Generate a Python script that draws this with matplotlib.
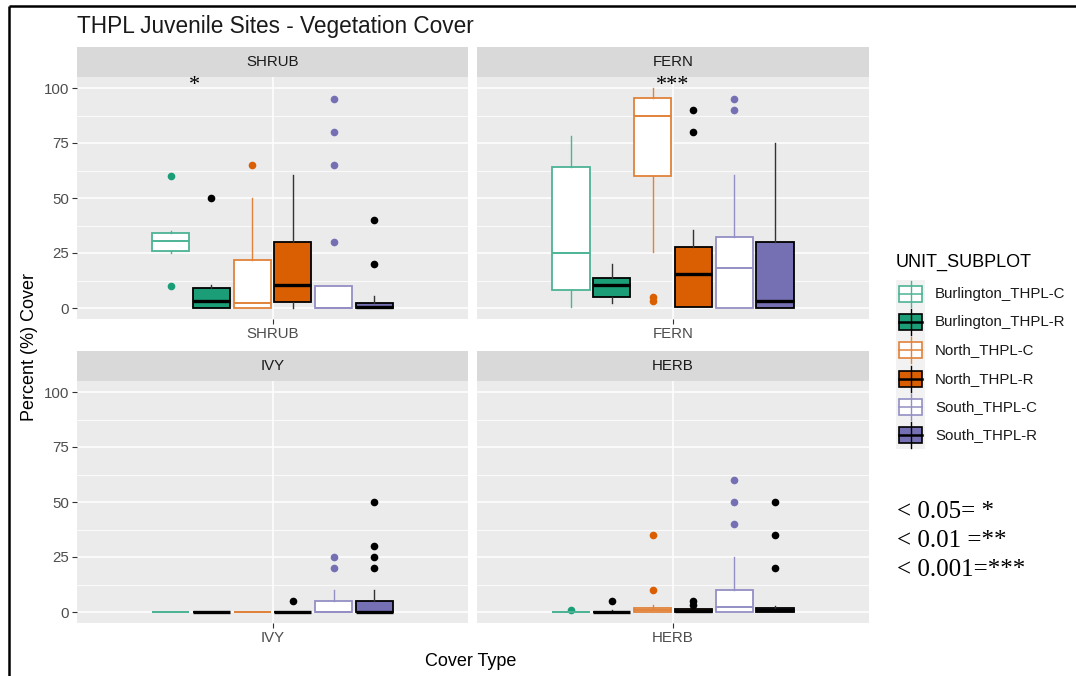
import matplotlib
matplotlib.use("Agg")
import matplotlib.pyplot as plt
from matplotlib.patches import Rectangle
from matplotlib.colors import to_rgb

plt.rcParams['font.family'] = ['Liberation Sans', 'DejaVu Sans']

panels = ["SHRUB", "FERN", "IVY", "HERB"]
groups = ["Burlington_THPL-C", "Burlington_THPL-R", "North_THPL-C",
          "North_THPL-R", "South_THPL-C", "South_THPL-R"]
site_colors = ["#1B9E77", "#1B9E77", "#D95F02", "#D95F02", "#7570B3", "#7570B3"]
filled = [False, True, False, True, False, True]

# box stats, one row per cover type (SHRUB, FERN, IVY, HERB), one column per group
q1 = [[26, 0, 0, 2.7, 0, 0],
      [8, 5, 60.2, 0.5, 0, 0],
      [0, 0, 0, 0, 0, 0],
      [0, 0, 0, 0, 0, 0]]
med = [[30.4, 3.2, 2.4, 10.4, 0, 0.5],
       [25.1, 10.4, 87.4, 15.4, 18, 3.2],
       [0, 0, 0, 0, 0, 0],
       [0, 0, 1, 0.5, 2.3, 1]]
q3 = [[34.2, 9.2, 21.8, 30.1, 10.1, 2.3],
      [64.1, 13.6, 95.3, 27.7, 32.2, 30],
      [0, 0, 0, 0, 5, 5],
      [0, 0, 2, 1.5, 9.8, 2]]
whis_lo = [[25, 0, 0, 0, 0, 0],
           [0.5, 2.4, 25.4, 0.5, 0, 0],
           [0, 0, 0, 0, 0, 0],
           [0, 0, 0, 0, 0, 0]]
whis_hi = [[35.2, 10.3, 50, 60.4, 10.1, 5.3],
           [78.2, 19.8, 100, 35.4, 60.4, 74.9],
           [0, 0, 0, 0, 10, 10],
           [0, 1, 3, 1.5, 25, 2.7]]
outliers = [[[60, 10], [50], [65], [], [95, 80, 65, 30], [40, 20]],
            [[], [], [5, 3], [90, 80], [95, 90], []],
            [[], [], [], [5], [25, 20], [50, 30, 25, 20]],
            [[1], [5], [35, 10], [5, 3], [60, 50, 40], [50, 35, 20]]]
signif = ["*", "***", "", ""]
signif_x = [-0.24, 0.0, 0.0, 0.0]

W, H = 1076, 676
fig = plt.figure(figsize=(W / 100, H / 100), dpi=100)


def px_axes(x0, y0, x1, y1):
    return fig.add_axes([x0 / W, 1 - y1 / H, (x1 - x0) / W, (y1 - y0) / H])


def lighten(c, amount=0.22):
    r, g, b = to_rgb(c)
    return (r + (1 - r) * amount, g + (1 - g) * amount, b + (1 - b) * amount)


panel_px = [(77, 77, 468, 319), (477, 77, 869, 319),
            (77, 381, 468, 623), (477, 381, 869, 623)]
strip_h = 30
offsets = [-0.3125, -0.1875, -0.0625, 0.0625, 0.1875, 0.3125]
box_w = 0.114

for p, name in enumerate(panels):
    x0, y0, x1, y1 = panel_px[p]
    # strip label
    st_ax = px_axes(x0, y0 - strip_h, x1, y0)
    st_ax.set_facecolor("#D9D9D9")
    st_ax.set_xticks([]); st_ax.set_yticks([])
    for s in st_ax.spines.values():
        s.set_visible(False)
    st_ax.text(0.5, 0.5, name, ha="center", va="center", fontsize=10.8,
               color="#1A1A1A", transform=st_ax.transAxes)

    ax = px_axes(x0, y0, x1, y1)
    ax.set_facecolor("#EBEBEB")
    ax.set_xlim(-0.6, 0.6)
    ax.set_ylim(-5, 105)
    ax.set_yticks([0, 25, 50, 75, 100])
    ax.set_yticks([12.5, 37.5, 62.5, 87.5], minor=True)
    ax.set_xticks([0])
    ax.set_xticklabels([name])
    ax.grid(which="major", color="white", lw=1.1)
    ax.grid(which="minor", axis="y", color="white", lw=0.55)
    ax.set_axisbelow(True)
    for s in ax.spines.values():
        s.set_visible(False)
    ax.tick_params(colors="#333333", labelcolor="#4D4D4D", labelsize=10.8,
                   length=3.5, width=0.8, pad=2)
    ax.tick_params(which="minor", left=False)
    if p % 2 == 1:
        ax.tick_params(axis="y", left=False, labelleft=False)

    for g in range(6):
        stats = dict(q1=q1[p][g], med=med[p][g], q3=q3[p][g],
                     whislo=whis_lo[p][g], whishi=whis_hi[p][g],
                     fliers=outliers[p][g])
        c = site_colors[g]
        if filled[g]:
            face, edge, wcol, mlw, fc = c, "black", "#333333", 2.4, "black"
        else:
            face, edge, wcol, mlw, fc = "white", lighten(c), lighten(c), 1.4, c
        ax.bxp([stats], positions=[offsets[g]], widths=box_w,
               patch_artist=True, showcaps=False, manage_ticks=False,
               boxprops=dict(facecolor=face, edgecolor=edge, lw=1.3),
               medianprops=dict(color=edge, lw=mlw),
               whiskerprops=dict(color=wcol, lw=1.0),
               flierprops=dict(marker="o", markerfacecolor=fc,
                               markeredgecolor="none", markersize=5.5))

    if signif[p]:
        ax.text(signif_x[p], 101, signif[p], ha="center", va="center",
                fontsize=16, family="Liberation Serif", color="black")

# overlay in pixel units for titles, legend and frame
ov = fig.add_axes([0, 0, 1, 1])
ov.set_xlim(0, W)
ov.set_ylim(H, 0)
ov.axis("off")
ov.patch.set_visible(False)

ov.plot([9, 9], [6, H], color="black", lw=1.8, solid_capstyle="butt")
ov.plot([9, W], [6, 6], color="black", lw=1.8, solid_capstyle="butt")

ov.text(77, 26, "THPL Juvenile Sites - Vegetation Cover", ha="left", va="center",
        fontsize=16.3, color="#1A1A1A")
ov.text(30, 347, "Percent (%) Cover", rotation=90, ha="center", va="center",
        fontsize=13, color="black")
ov.text(471, 662, "Cover Type", ha="center", va="center", fontsize=13,
        color="black")

# legend
ov.text(896, 262, "UNIT_SUBPLOT", ha="left", va="center", fontsize=13,
        color="black")
row0, row_h = 294, 28.2
ov.add_patch(Rectangle((896, row0 - 14), 29, row_h * 6, facecolor="#F2F2F2",
                       edgecolor="none"))
for g, label in enumerate(groups):
    yc = row0 + row_h * g
    c = site_colors[g]
    if filled[g]:
        face, edge, mlw = c, "black", 1.8
    else:
        face, edge, mlw = "white", lighten(c), 1.1
    ov.plot([910.5, 910.5], [yc - 13, yc + 13], color=edge, lw=1.0)
    ov.add_patch(Rectangle((899, yc - 8), 23, 16, facecolor=face,
                           edgecolor=edge, lw=1.2))
    ov.plot([899, 922], [yc, yc], color=edge, lw=mlw)
    ov.text(935, yc, label, ha="left", va="center", fontsize=10.8,
            color="#1A1A1A")

for i, line in enumerate(["< 0.05= *", "< 0.01 =**", "< 0.001=***"]):
    ov.text(897, 512 + 29 * i, line, ha="left", va="center", fontsize=18,
            family="Liberation Serif", color="black")

fig.savefig("out.png", dpi=100)
